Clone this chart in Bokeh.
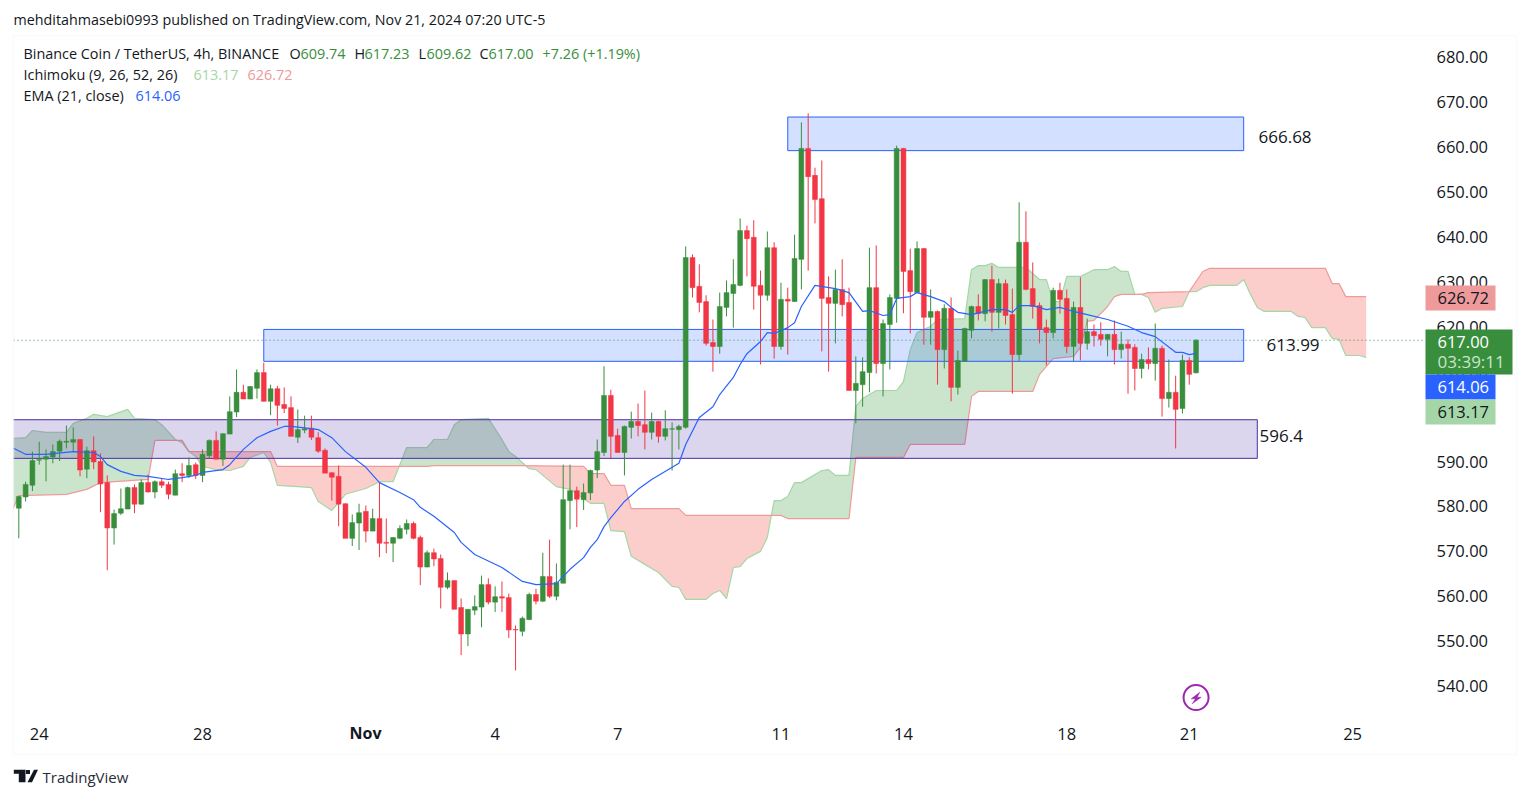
import numpy as np
from bokeh.embed import file_html
from bokeh.resources import INLINE
from bokeh.plotting import figure
from bokeh.models import (ColumnDataSource, Range1d, FixedTicker, Label, BoxAnnotation, PolyAnnotation)

# ---------- candles (4h bars, index 0..173) ----------
opens = [579.6,582.1,584.7,590.3,590.5,591.0,592.3,594.3,594.3,594.9,
588.3,592.4,590.0,585.3,575.2,578.5,579.4,584.2,580.5,585.3,
583.2,585.5,584.9,582.5,587.3,586.9,589.3,586.9,591.3,594.7,
590.5,596.1,601.0,605.4,603.9,606.3,609.8,603.4,606.2,602.7,
602.0,595.4,597.0,597.4,595.3,592.5,587.5,586.7,580.6,572.9,
576.3,578.9,574.5,577.3,572.0,571.8,572.9,574.9,576.2,573.1,
566.5,569.7,568.4,562.0,563.5,557.5,551.6,556.9,557.6,562.6,
558.7,559.9,559.7,552.6,552.2,554.8,560.4,558.9,564.4,560.0,
562.9,581.3,583.5,581.5,583.0,588.1,592.0,604.7,595.8,592.0,
597.6,598.9,598.2,596.5,598.9,595.6,597.2,597.1,597.6,635.4,
629.0,625.6,616.5,615.6,624.3,627.4,629.2,641.4,639.9,629.2,
627.0,637.6,615.6,626.1,625.6,635.0,659.7,653.7,648.5,626.5,
625.2,628.3,625.4,605.8,607.1,609.8,628.7,611.8,620.5,626.3,
659.7,632.5,627.6,637.4,622.1,623.4,614.9,624.1,606.5,612.3,
619.2,624.5,622.9,630.5,623.2,629.6,622.7,613.8,638.8,628.5,
624.7,619.8,618.7,628.1,626.3,615.6,624.3,616.3,618.9,618.3,
617.2,618.3,614.9,616.1,615.4,610.7,612.7,611.8,615.2,604.0,
605.4,601.8,612.5,609.74]
closes = [582.2,584.9,590.2,590.4,591.1,592.2,594.5,594.5,594.9,588.1,
592.4,589.9,585.0,575.2,578.4,579.5,584.2,580.5,585.3,583.2,
585.5,584.7,582.7,587.3,586.9,589.1,586.9,591.6,594.7,590.5,
596.2,601.1,605.4,603.9,606.7,609.8,603.4,606.2,602.5,601.8,
595.6,597.1,597.3,595.4,592.3,587.4,586.5,580.5,572.9,576.4,
578.6,574.5,577.3,571.8,571.8,573.1,575.1,576.2,572.9,566.5,
569.7,568.3,562.0,563.5,557.1,551.6,557.1,557.7,562.6,558.7,
559.9,559.6,552.5,552.5,555.1,560.4,558.9,564.4,560.0,563.1,
581.5,583.5,581.6,583.1,588.0,592.2,604.7,595.6,592.0,597.8,
598.9,598.0,596.5,598.9,595.6,597.3,597.3,597.8,635.4,628.7,
625.4,616.3,615.6,624.5,627.6,629.4,641.4,639.6,629.0,627.0,
637.6,615.6,626.1,625.7,635.2,659.7,653.4,648.3,626.3,625.2,
628.3,624.9,605.8,607.4,610.0,628.7,611.8,620.7,626.5,659.7,
632.3,627.8,637.4,622.1,623.4,614.9,624.1,606.5,612.5,619.6,
624.5,622.9,630.5,623.2,629.6,622.5,613.8,638.8,628.3,624.5,
619.5,618.7,628.1,626.1,615.6,624.3,616.3,618.9,618.0,617.2,
618.3,614.9,616.1,615.2,610.7,612.7,611.8,615.2,604.0,605.4,
601.6,612.5,609.4,617.0]
highs = [582.4,585.5,592.2,594.4,592.7,593.8,594.9,598.0,597.6,595.0,
593.3,595.6,591.8,586.9,579.3,584.0,584.4,584.9,586.0,587.1,
585.8,586.1,585.5,588.2,589.6,590.9,589.8,592.7,594.9,596.7,
596.3,604.5,610.5,607.1,606.8,610.5,612.0,607.1,606.8,606.5,
604.5,601.6,600.2,600.2,596.5,592.9,587.6,589.1,580.7,578.2,
580.6,580.2,579.5,585.3,577.3,573.1,575.8,577.1,576.6,573.5,
570.2,570.6,569.3,565.3,563.5,559.5,557.1,560.2,564.6,564.0,
562.2,563.3,560.6,553.5,555.5,560.8,561.7,569.7,572.6,567.3,
589.3,589.3,584.4,585.1,588.2,594.9,611.2,606.0,597.3,598.0,
601.1,602.9,605.8,600.9,599.1,601.4,598.7,598.2,637.9,636.1,
633.9,627.0,621.6,627.6,630.3,635.0,644.1,642.5,643.7,632.5,
641.2,638.8,629.8,628.7,640.5,665.5,667.5,655.4,657.0,631.2,
632.7,635.0,628.7,613.4,613.2,637.6,638.1,621.6,627.2,660.3,
659.8,637.4,639.0,637.5,628.3,623.6,625.0,626.5,614.7,619.8,
624.7,627.2,630.6,633.6,630.7,630.5,628.5,647.7,645.7,634.3,
625.4,621.6,628.7,629.8,628.3,625.6,631.0,621.8,620.5,621.0,
618.3,621.4,618.9,617.2,616.1,614.0,615.4,620.7,615.8,612.7,
609.1,613.8,613.2,617.23]
lows = [572.9,581.1,583.4,589.3,585.6,589.6,590.1,592.9,592.3,586.7,
586.3,588.3,578.7,565.8,571.5,578.1,579.4,578.5,580.4,583.1,
581.8,584.1,581.6,582.5,585.4,586.3,586.1,585.4,590.8,590.5,
589.0,596.1,599.9,603.9,603.9,604.0,603.4,600.3,598.0,600.8,
595.6,594.1,596.3,594.8,591.9,587.4,581.3,575.6,572.9,571.2,
570.3,572.0,574.5,568.7,569.6,567.6,572.7,573.8,572.7,562.5,
566.5,566.7,557.3,561.6,557.1,546.9,548.9,555.8,553.1,558.2,
556.5,556.5,550.7,543.5,551.1,554.7,558.2,558.7,559.6,559.1,
562.9,574.9,575.4,579.2,581.4,586.3,591.2,590.7,592.0,586.9,
595.1,595.6,592.7,594.9,594.2,594.7,588.0,592.7,597.3,626.5,
623.2,615.8,610.0,614.0,622.3,619.8,629.0,631.2,623.8,611.6,
625.8,612.9,614.9,613.8,625.6,628.3,632.5,643.0,614.5,610.0,
616.3,622.3,605.8,598.5,602.2,605.4,609.6,604.5,610.5,620.9,
623.0,618.5,627.6,616.0,616.0,607.1,610.7,603.4,604.9,612.3,
617.4,621.4,621.2,618.9,619.6,620.5,605.1,612.3,628.1,621.8,
616.3,611.4,617.4,622.9,614.1,612.3,612.5,614.9,615.6,615.8,
613.4,611.6,612.9,605.1,605.8,608.5,610.5,608.0,600.0,602.0,
592.9,600.7,607.1,609.62]

# ---------- Ichimoku spans and EMA: (bar, price) vertices ----------
span_a_bar = [-1,1,2,4,7,8,10,11,13,16,17,20,21,23,24,25,26,27,29,31,33,34,36,37,38,41,43,44,46,48,51,53,55,57,60,61,63,64,65,69,71,72,73,75,76,79,81,84,86,87,89,90,92,94,96,97,98,101,102,103,104,105,106,107,109,110,111,112,113,114,115,118,119,120,122,123,124,126,129,130,131,132,134,135,139,140,141,142,143,144,148,150,151,152,153,154,156,158,160,161,162,163,164,165,166,167,168,171,172,173,174,175,179,180,181,182,183,187,188,189,190,192,193,194,195,197,198]
span_a_val = [595.1,595.3,596.9,596.5,596.5,598.5,599.6,600.5,600.0,601.6,599.6,599.3,598.2,594.9,594.2,592.2,591.1,588.9,588.2,588.0,588.9,590.9,592.0,589.8,584.7,584.4,584.2,581.1,579.1,582.7,584.0,585.5,585.5,593.1,593.1,594.9,594.9,598.2,599.3,599.6,594.9,592.2,591.1,588.4,588.2,584.4,583.8,580.7,580.7,574.6,574.4,568.9,567.1,565.3,562.2,562.0,559.3,559.3,560.6,561.3,559.5,566.4,566.6,568.4,570.0,573.1,581.3,581.3,582.2,585.3,585.3,588.0,588.2,586.9,586.9,602.2,604.0,605.8,605.8,607.8,614.9,618.7,620.1,621.6,621.8,632.7,633.6,633.6,634.1,633.2,633.2,630.5,630.5,625.6,625.6,631.2,631.2,632.7,632.7,633.4,632.3,632.3,627.2,627.2,626.5,623.2,624.1,624.5,627.8,627.8,628.7,629.2,629.2,630.5,627.2,624.3,623.4,623.4,622.3,622.1,619.8,619.8,617.4,617.2,613.6,613.6,613.17]
span_b_bar = [-1,0,7,10,12,19,20,24,25,37,38,60,61,73,83,84,86,87,89,90,97,98,112,113,122,123,130,131,139,140,141,149,150,152,155,156,157,158,160,161,162,165,166,172,174,175,192,193,194,195,198]
span_b_val = [579.0,582.4,582.7,583.8,585.3,586.0,594.7,594.7,592.2,592.2,588.9,588.9,589.1,589.1,588.9,587.3,587.3,584.7,584.7,579.5,579.5,578.0,578.0,577.3,577.3,590.9,590.9,593.8,593.8,604.5,605.6,605.6,609.4,612.9,613.4,615.4,621.2,621.4,624.5,626.7,627.2,627.2,627.6,627.8,632.3,633.0,633.0,629.6,629.6,626.7,626.72]
ema_bar = [-1,1,4,8,11,12,13,15,17,19,22,24,26,27,30,31,33,35,37,39,40,43,44,46,48,51,53,56,58,59,61,64,65,67,71,74,76,79,81,83,84,85,86,87,89,91,93,97,98,100,102,103,105,106,107,109,110,111,113,114,115,117,120,122,124,125,127,128,129,131,132,134,136,137,138,140,143,145,146,147,149,151,153,155,157,160,163,165,167,170,171,172,173]
ema_val = [593.1,591.6,591.6,592.2,592.0,591.1,589.3,587.8,586.9,586.7,586.0,586.4,586.9,587.6,588.2,589.3,592.7,595.3,596.7,597.8,597.8,597.3,597.1,595.3,592.2,588.7,585.3,583.1,581.5,579.8,577.8,574.2,572.0,569.3,566.4,563.3,562.6,562.8,566.0,568.6,570.9,572.6,575.5,577.5,581.1,583.8,586.0,589.6,593.8,599.8,602.2,604.9,608.7,611.6,614.0,616.7,618.7,618.5,619.8,620.9,624.5,629.2,628.5,627.6,623.4,623.6,622.5,622.7,626.3,626.7,627.6,626.7,625.6,624.3,623.2,622.7,623.8,623.8,623.2,624.7,624.7,623.8,624.3,623.4,622.7,621.6,620.1,618.7,617.8,614.3,614.3,613.8,614.06]

# ---------- drawn zones ----------
zone_left = [113, 36, -1]
zone_right = [180, 180, 182]
zone_bottom = [659.2, 612.3, 590.7]
zone_top = [666.68, 619.4, 599.3]
zone_fill = ["#2962ff", "#2962ff", "#4a2fa5"]
zone_line = ["#2962ff", "#2962ff", "#4a2fa5"]

price_ticks = list(range(540, 690, 10))
time_ticks = [3, 27, 70, 88, 112, 130, 154, 172, 196]
time_labels = ["24", "28", "4", "7", "11", "14", "18", "21", "25"]

GREEN, RED = "#388e3c", "#f23645"
INK = "#131722"
FONT = "Open Sans"

BX0, BXS = 18.3, 6.805
PY0, PYS = 462.0, 0.2226
def bx(px): return (px - BX0) / BXS
def py(y): return 590 + (PY0 - y) * PYS

W, H = 1525, 790
PANE_R, PANE_B = 1425, 718
DY = 1

# the frame fills the whole canvas; annotations are only visible inside it
p = figure(width=W, height=H, output_backend="svg", toolbar_location=None,
           x_range=Range1d(bx(0), bx(W)), y_range=Range1d(py(H + DY), py(DY)),
           y_axis_location="right", min_border_left=0, min_border_right=0,
           min_border_top=0, min_border_bottom=0,
           background_fill_color="white", border_fill_color="white", outline_line_color=None)
p.grid.visible = False

ya = p.yaxis[0]
ya.fixed_location = bx(PANE_R)
ya.ticker = FixedTicker(ticks=price_ticks)
ya.major_label_overrides = {t: f"{t:.2f}" for t in price_ticks}
ya.axis_line_color = None
ya.major_tick_line_color = None
ya.minor_tick_line_color = None
ya.major_label_text_font = FONT
ya.major_label_text_font_size = "16.5px"
ya.major_label_text_color = INK
ya.major_label_standoff = 5

xa = p.xaxis[0]
xa.fixed_location = py(PANE_B)
xa.ticker = FixedTicker(ticks=time_ticks)
xa.major_label_overrides = dict(zip(time_ticks, time_labels))
xa.axis_line_color = None
xa.major_tick_line_color = None
xa.minor_tick_line_color = None
xa.major_label_text_font = FONT
xa.major_label_text_font_size = "16.5px"
xa.major_label_text_color = INK
xa.major_label_standoff = 4

grid = sorted(set(span_a_bar) | set(span_b_bar))
ga = np.interp(grid, span_a_bar, span_a_val)
gb = np.interp(grid, span_b_bar, span_b_val)
xs, ya_, yb_ = [], [], []
for k in range(len(grid)):
    if k and (ga[k-1] - gb[k-1]) * (ga[k] - gb[k]) < 0:
        d0, d1 = ga[k-1] - gb[k-1], ga[k] - gb[k]
        t = d0 / (d0 - d1)
        xc = grid[k-1] + t * (grid[k] - grid[k-1])
        yc = ga[k-1] + t * (ga[k] - ga[k-1])
        xs.append(xc); ya_.append(yc); yb_.append(yc)
    xs.append(grid[k]); ya_.append(ga[k]); yb_.append(gb[k])
ya_, yb_ = np.array(ya_), np.array(yb_)
top = np.maximum(ya_, yb_)
p.varea(x=xs, y1=yb_, y2=top, fill_color="#43a047", fill_alpha=0.28)
p.varea(x=xs, y1=ya_, y2=top, fill_color="#f44336", fill_alpha=0.26)
p.line(span_a_bar, span_a_val, line_color="#a5d6a7", line_width=1.2)
p.line(span_b_bar, span_b_val, line_color="#ef9a9a", line_width=1.2)

zone_src = ColumnDataSource(dict(l=zone_left, r=zone_right, b=zone_bottom, t=zone_top, f=zone_fill, c=zone_line))
p.quad(left="l", right="r", bottom="b", top="t", source=zone_src, fill_color="f", fill_alpha=0.2, line_color="c", line_width=1)

bars = np.arange(len(opens))
colors = [GREEN if c >= o else RED for o, c in zip(opens, closes)]
src = ColumnDataSource(dict(x=bars, o=opens, c=closes, h=highs, l=lows,
                            top=np.maximum(opens, closes), bot=np.minimum(opens, closes), col=colors))
p.segment(x0="x", y0="l", x1="x", y1="h", source=src, line_color="col", line_width=1)
p.vbar(x="x", width=0.72, top="top", bottom="bot", source=src, fill_color="col", line_color="col", line_width=0.5)

p.line(ema_bar, ema_val, line_color="#2962ff", line_width=1.2)

# last-price dotted line across the pane
p.line([bx(13), bx(PANE_R)], [closes[-1], closes[-1]], line_color=GREEN, line_dash="1 3", line_width=1)

def sx(px): return px
def sy(y): return H - y

def label(px, y, text, color=INK, size=14.4, weight="normal", align="left", font=FONT):
    p.add_layout(Label(x=sx(px), y=sy(y - 1), x_units="screen", y_units="screen", text=text, text_color=color,
                       text_font=font, text_font_size=f"{size}px", text_font_style=weight, text_align=align,
                       text_baseline="middle"))

def box(l, r, t, b, fill, line=None, width=0, falpha=1.0):
    p.add_layout(BoxAnnotation(left=sx(l), right=sx(r), top=sy(t), bottom=sy(b),
                               left_units="screen", right_units="screen", top_units="screen", bottom_units="screen",
                               fill_color=fill, fill_alpha=falpha, line_color=line, line_width=width))

# white margin left of the pane, then the outer frame
box(0, 13, 0, H, "white")
box(13, 1516, 35, 754, None, "#f0f3fa", 2, 0)

label(1258, 137, "666.68", size=17)
label(1266, 345, "613.99", size=17)
label(1259, 436, "596.4", size=17)

label(365, 733, "Nov", size=16, weight="bold", align="center")

box(1425, 1495, 285, 310, "#ef9a9a")
label(1437, 298, "626.72", size=16.5)
box(1425, 1512, 329, 374, GREEN)
label(1437, 342, "617.00", "white", 16.5)
label(1437, 362, "03:39:11", "#c8e6c9", 17)
box(1425, 1495, 374, 399, "#2962ff")
label(1437, 387, "614.06", "white", 16.5)
box(1425, 1495, 399, 424, "#a5d6a7")
label(1437, 412, "613.17", size=16.5)

label(13, 20, "mehditahmasebi0993 published on TradingView.com, Nov 21, 2024 07:20 UTC-5", size=14.3)
label(23, 54, "Binance Coin / TetherUS, 4h, BINANCE")
for px, txt, col in [(289, "O", INK), (300, "609.74", GREEN), (354, "H", INK), (364, "617.23", GREEN),
                     (418, "L", INK), (426, "609.62", GREEN), (479, "C", INK), (488, "617.00", GREEN),
                     (542, "+7.26 (+1.19%)", GREEN)]:
    label(px, 54, txt, col)
label(23, 75, "Ichimoku (9, 26, 52, 26)")
label(193, 75, "613.17", "#a5d6a7")
label(247, 75, "626.72", "#ef9a9a")
label(23, 96, "EMA (21, close)")
label(135, 96, "614.06", "#2962ff")

mark_bar, mark_price = 173, 537.45
p.scatter([mark_bar], [mark_price], size=25, fill_color="white", line_color="#9c27b0", line_width=2)
bolt_x = [1199.3, 1190.7, 1195.0, 1191.7, 1200.7, 1196.7]
bolt_y = [692.7, 699.3, 699.3, 704.3, 697.7, 697.7]
p.patch([bx(v) for v in bolt_x], [py(v) for v in bolt_y], fill_color="#9c27b0", line_color="#9c27b0", line_width=0.5)

for lx, ly in [
    ([13.3, 25, 25, 18.3, 18.3, 13.3], [769.3, 769.3, 781.7, 781.7, 773.3, 773.3]),
    ([33.5, 37.5, 31.5, 27.0], [769.3, 769.3, 781.7, 781.7]),
    ([25.5, 29.5, 29.5, 25.5], [769.5, 769.5, 773.5, 773.5]),
]:
    p.add_layout(PolyAnnotation(xs=[sx(v) for v in lx], ys=[sy(v) for v in ly], xs_units="screen", ys_units="screen",
                                fill_color=INK, fill_alpha=1, line_color=INK, line_width=0))
label(42, 777, "TradingView", "#2a2e39", 15)

open("out.html", "w").write(file_html(p, INLINE))
